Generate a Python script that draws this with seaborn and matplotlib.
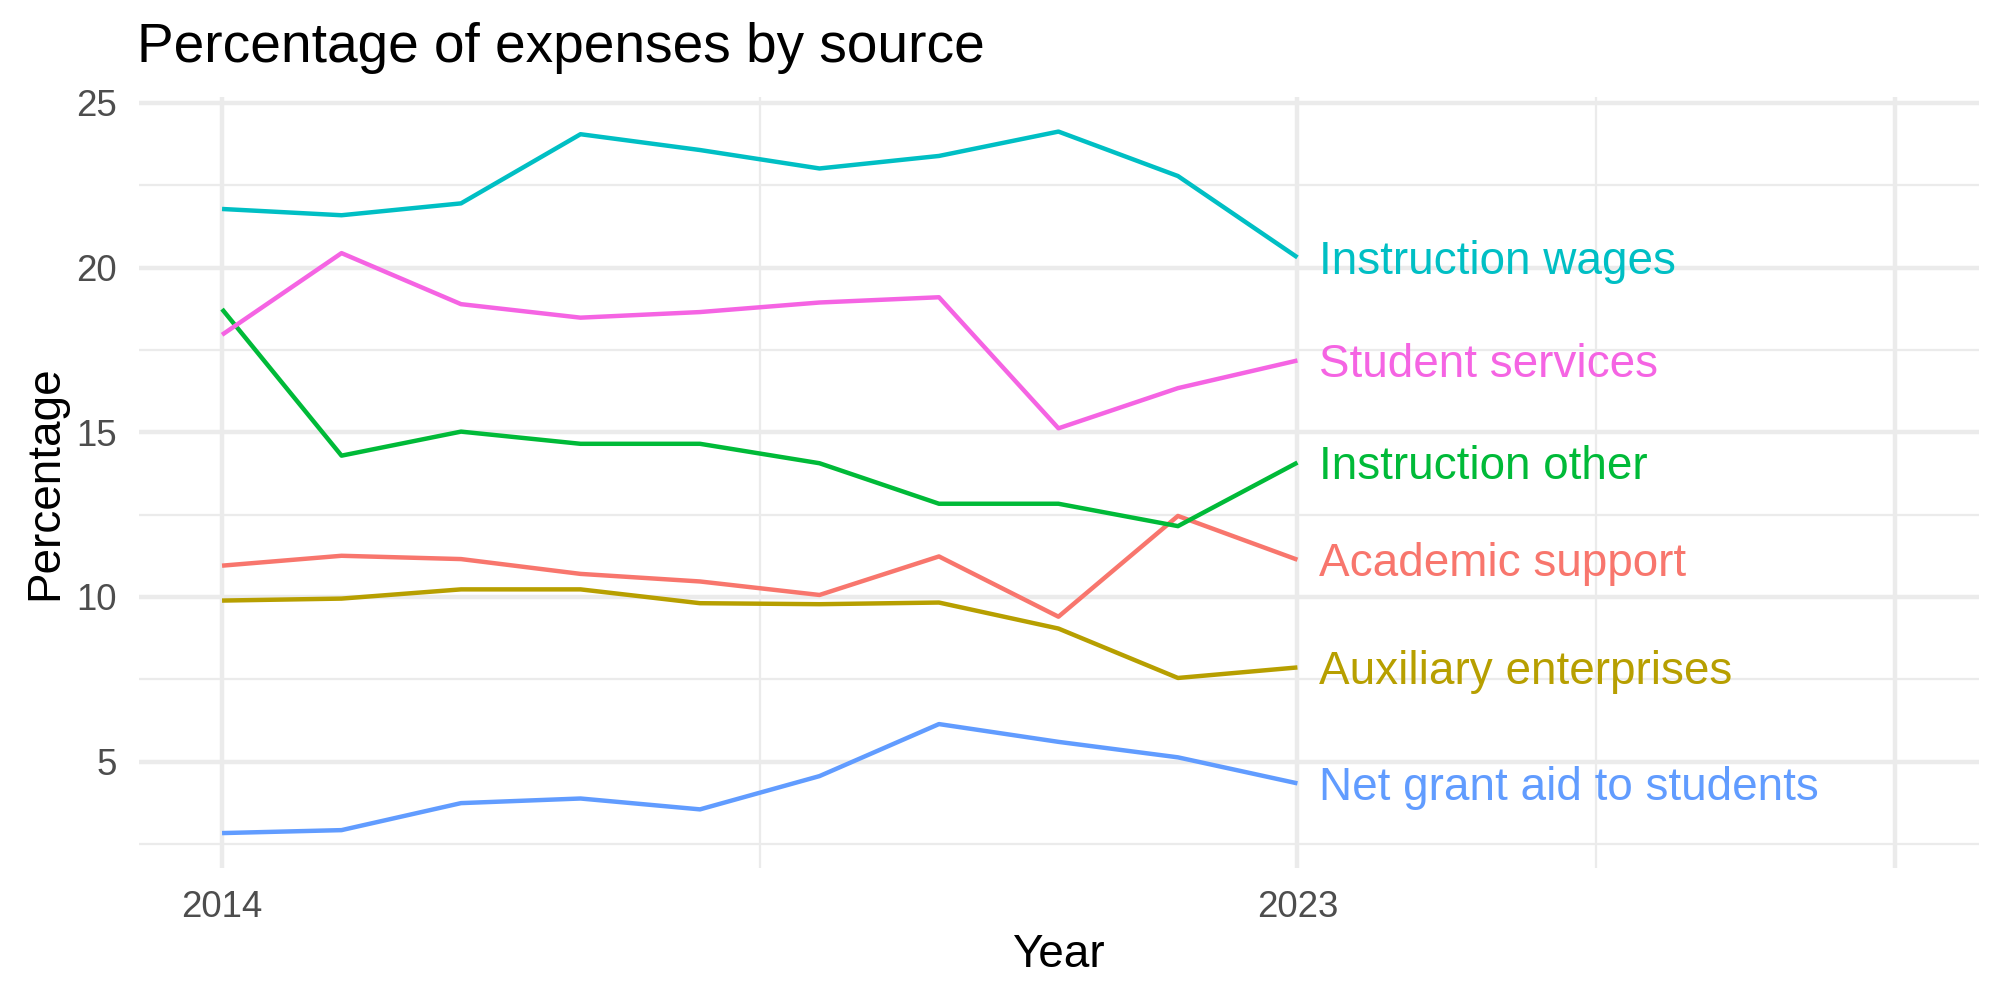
import matplotlib
matplotlib.use("Agg")
import matplotlib.pyplot as plt
import matplotlib.transforms as mtransforms
import seaborn as sns
import pandas as pd

years = [2014, 2015, 2016, 2017, 2018, 2019, 2020, 2021, 2022, 2023]
academic_support = [10.95, 11.25, 11.15, 10.70, 10.47, 10.06, 11.23, 9.40, 12.46, 11.13]
auxiliary_enterprises = [9.89, 9.95, 10.23, 10.23, 9.81, 9.78, 9.83, 9.04, 7.54, 7.86]
instruction_other = [18.74, 14.29, 15.02, 14.65, 14.65, 14.06, 12.83, 12.83, 12.15, 14.08]
instruction_wages = [21.78, 21.59, 21.95, 24.05, 23.57, 23.01, 23.39, 24.13, 22.78, 20.31]
net_grant_aid = [2.83, 2.92, 3.74, 3.88, 3.55, 4.56, 6.14, 5.60, 5.13, 4.34]
student_services = [17.96, 20.44, 18.89, 18.48, 18.65, 18.94, 19.10, 15.12, 16.34, 17.18]

sources = ["Academic support", "Auxiliary enterprises", "Instruction other",
           "Instruction wages", "Net grant aid to students", "Student services"]
colors = ["#F8766D", "#B79F00", "#00BA38", "#00BFC4", "#619CFF", "#F564E3"]
series = [academic_support, auxiliary_enterprises, instruction_other,
          instruction_wages, net_grant_aid, student_services]

x_major = [2014, 2023, 2028]
x_major_labels = ["2014", "2023", ""]
x_minor = [2018.5, 2025.5]
y_major = [5, 10, 15, 20, 25]
y_minor = [2.5, 7.5, 12.5, 17.5, 22.5]

rows = []
for name, vals in zip(sources, series):
    for yr, v in zip(years, vals):
        rows.append({"Year": yr, "Percentage": v, "Source": name})
df = pd.DataFrame(rows)

sns.set_theme(style="white")
plt.rcParams["font.family"] = ["Liberation Sans", "DejaVu Sans"]

W, H = 2000, 1000
fig = plt.figure(figsize=(20, 10), dpi=100)
left, right, top, bottom = 139, 1978.5, 97, 868
ax = fig.add_axes([left / W, 1 - bottom / H, (right - left) / W, (bottom - top) / H])

palette = dict(zip(sources, colors))
sns.lineplot(data=df, x="Year", y="Percentage", hue="Source", palette=palette,
             ax=ax, legend=False, linewidth=3.2, zorder=3,
             solid_capstyle="butt", solid_joinstyle="round")

ax.set_xlim(2013.305, 2028.7)
ax.set_ylim(1.77, 25.18)

ax.set_xticks(x_major)
ax.set_xticklabels(x_major_labels)
ax.set_xticks(x_minor, minor=True)
ax.set_yticks(y_major)
ax.set_yticklabels([str(v) for v in y_major])
ax.set_yticks(y_minor, minor=True)

ax.grid(which="major", color="#EBEBEB", linewidth=3.2, zorder=0)
ax.grid(which="minor", color="#EBEBEB", linewidth=1.6, zorder=0)
ax.set_axisbelow(True)
for s in ax.spines.values():
    s.set_visible(False)
ax.tick_params(which="both", length=0)
ax.tick_params(axis="both", which="major", labelsize=26.4, labelcolor="#4D4D4D", pad=15.8)

ax.set_xlabel("Year", fontsize=33, color="black")
ax.xaxis.label.set_va("baseline")
ax.xaxis.set_label_coords(0.5, -(967 - bottom) / (bottom - top))
ax.set_ylabel("Percentage", fontsize=33, color="black")
ax.yaxis.label.set_va("baseline")
ax.yaxis.label.set_rotation_mode("anchor")
ax.yaxis.set_label_coords(-(left - 57) / (right - left), 0.5)

# End labels, vertically centred on cap height
trans = mtransforms.offset_copy(ax.transData, fig=fig, x=0, y=-11.8, units="points")
for name, vals, c in zip(sources, series, colors):
    ax.text(years[-1] + 0.18, vals[-1], name, color=c, fontsize=33,
            ha="left", va="baseline", transform=trans, zorder=4)

fig.text(left / W - 0.001, 1 - 62 / H, "Percentage of expenses by source",
         fontsize=39.6, color="black", ha="left", va="baseline")

fig.savefig("out.png", dpi=100, facecolor="white")
